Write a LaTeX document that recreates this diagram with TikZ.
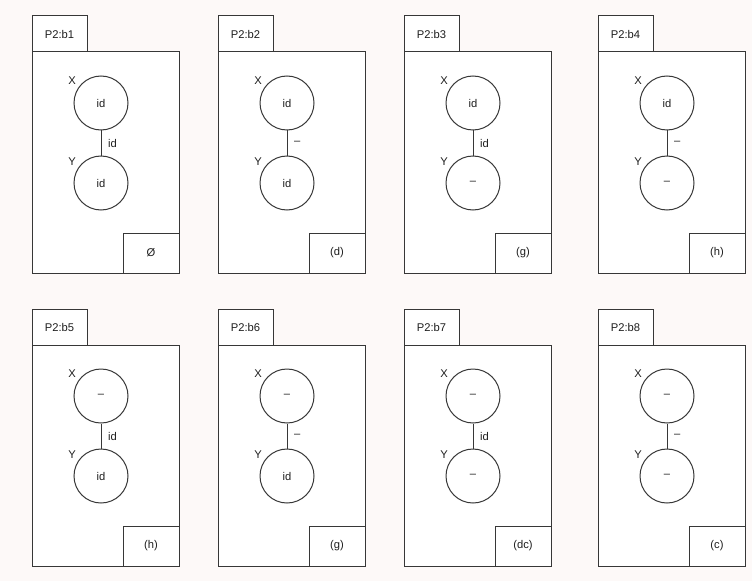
\documentclass[tikz,border=0pt]{standalone}
\usepackage{fontspec}
\setmainfont{Liberation Sans}
\usepackage{xcolor}
\usepackage{tikz}
\usetikzlibrary{positioning}

\definecolor{bgpink}{RGB}{253,249,248}
\definecolor{linegray}{RGB}{55,55,55}
\definecolor{textgray}{RGB}{30,30,30}

\tikzset{
  frame/.style={draw=linegray,fill=white,line width=0.75pt},
  state/.style={circle,draw=linegray,fill=white,line width=0.75pt,minimum size=40.5pt,inner sep=0pt,text=textgray},
  txt/.style={inner sep=0pt,text=textgray,font=\fontsize{8.4}{10}\selectfont},
  bond/.style={draw=linegray,line width=0.75pt}
}

\begin{document}
\begin{tikzpicture}[x=0.75pt,y=-0.75pt,font=\fontsize{8.4}{10}\selectfont]
    \fill[bgpink] (0,0) rectangle (752,581);
    \useasboundingbox (0,0) rectangle (752,581);

    % one panel per entry: number/left/top/X value/edge value/Y value/corner
    \foreach \n/\px/\py/\xv/\ev/\yv/\cv in {
        1/32/52/id/id/id/Ø,
        2/218/52/id/–/id/(d),
        3/404/52/id/id/–/(g),
        4/598/52/id/–/–/(h),
        5/32/345/–/id/id/(h),
        6/218/345/–/–/id/(g),
        7/404/345/–/id/–/(dc),
        8/598/345/–/–/–/(c)}{
        \draw[frame] (\px,\py) rectangle (\px+147,\py+221);
        \draw[frame] (\px,\py-36) rectangle (\px+55,\py);
        \node[txt] (tab\n) at (\px+27.5,\py-18) {P2:b\n};

        \node[state] (X\n) at (\px+69,\py+51) {\xv};
        \node[state] (Y\n) at (\px+69,\py+131) {\yv};
        \node[txt] (xl\n) at (\px+40,\py+29) {X};
        \node[txt] (yl\n) at (\px+40,\py+110) {Y};
        \draw[bond] (X\n) -- (Y\n) node[midway,right=5pt,txt] (e\n) {\ev};

        \draw[frame] (\px+91,\py+181) rectangle (\px+147,\py+221);
        \node[txt] (c\n) at (\px+119,\py+201) {\cv};
    }
\end{tikzpicture}
\end{document}
